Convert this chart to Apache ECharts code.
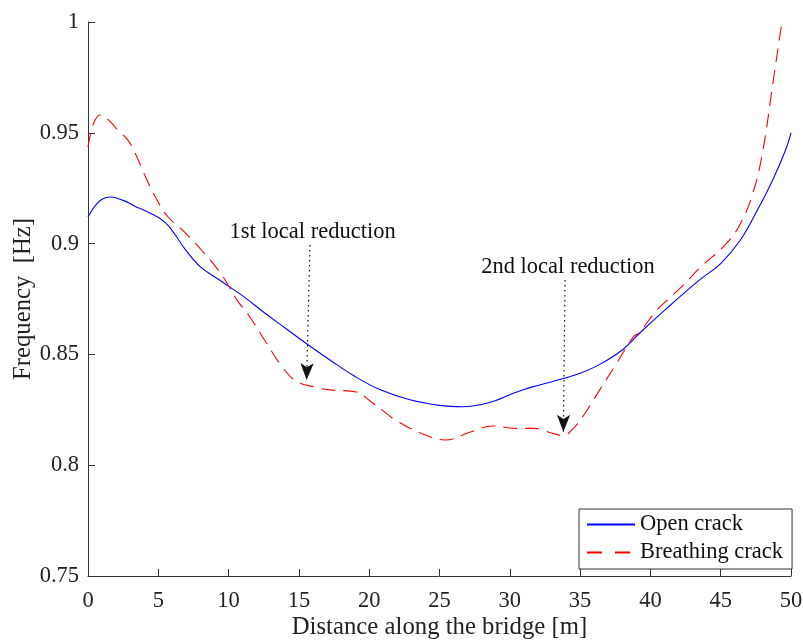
<!DOCTYPE html>
<html>
<head>
<meta charset="utf-8">
<script src="https://cdn.jsdelivr.net/npm/echarts@6/dist/echarts.min.js"></script>
<style>html,body{margin:0;padding:0;background:#fff}#c{width:803px;height:641px}</style>
</head>
<body>
<div id="c"></div>
<script>
const openX = [0,0.5,1,1.6,2.5,3.3,4.5,5.5,6.2,6.9,8,9.3,10,11.2,12.5,14,15.5,17.2,19,20.8,22.9,25,26.7,28,29,30,31,32,33,34,35,36.4,38,39.3,41.2,43.5,45,46.4,47.6,48.7,49.6,50];
const openY = [0.912,0.917,0.920,0.921,0.9195,0.917,0.9135,0.9095,0.904,0.8975,0.8895,0.8838,0.8808,0.8755,0.869,0.862,0.855,0.8475,0.840,0.834,0.8295,0.827,0.8264,0.8274,0.8292,0.8318,0.8342,0.836,0.8377,0.8395,0.8415,0.8455,0.852,0.860,0.871,0.8836,0.891,0.9016,0.915,0.9287,0.942,0.950];
const breathX = [0,0.2,0.45,0.85,1.5,2.15,2.8,3.34,4.17,4.88,5.7,6.9,8.08,9.27,10,10.6,11.5,12.7,13.8,14.8,16.3,17.2,19.1,20.06,21,21.95,23.85,25.4,27.2,28.8,30.5,31.7,33,33.8,34.5,35.2,36.4,37.6,38.8,39.2,40.45,41.2,42.3,43.5,45.4,46.4,47.3,48.0,48.7,49.35,50];
const breathY = [0.9436,0.950,0.955,0.958,0.9555,0.951,0.947,0.941,0.929,0.920,0.912,0.905,0.897,0.888,0.881,0.8745,0.867,0.855,0.8445,0.838,0.835,0.834,0.833,0.829,0.8245,0.820,0.814,0.8114,0.815,0.8177,0.8166,0.8166,0.8145,0.8134,0.8165,0.822,0.834,0.846,0.858,0.8598,0.870,0.8745,0.881,0.889,0.900,0.909,0.923,0.942,0.972,1.0,1.03];
const xTicks = [0,5,10,15,20,25,30,35,40,45,50];
const yTicks = [0.75,0.8,0.85,0.9,0.95,1];
const seriesNames = ['Open crack','Breathing crack'];
const annotations = [
  {text:'1st local reduction', label:[15.97,0.9054], from:[15.79,0.8994], to:[15.55,0.8384]},
  {text:'2nd local reduction', label:[34.14,0.8896], from:[33.93,0.8836], to:[33.81,0.8151]}
];

const FONT = 'Liberation Serif';
const AX = '#333333';
const FS = 22.5, FL = 24.75;
const chart = echarts.init(document.getElementById('c'));
const zip = (xs, ys) => xs.map((x,i)=>[x, ys[i]]);

const axisCommon = {
  axisLine:{show:true, lineStyle:{color:AX, width:1}},
  axisTick:{show:true, inside:true, length:7, lineStyle:{color:AX}},
  splitLine:{show:false},
  nameMoveOverlap:false,
  axisLabel:{color:'#222', fontFamily:FONT, fontSize:FS},
  nameTextStyle:{color:'#222', fontFamily:FONT, fontSize:FL}
};

chart.setOption({
  animation:false,
  backgroundColor:'#fff',
  grid:{left:88, right:12, top:22, bottom:65, containLabel:false, outerBoundsMode:'none'},
  xAxis:Object.assign({}, axisCommon, {
    type:'value', min:xTicks[0], max:xTicks[xTicks.length-1], interval:5,
    name:'Distance along the bridge [m]', nameLocation:'middle', nameGap:39,
    axisLabel:Object.assign({}, axisCommon.axisLabel, {margin:14})
  }),
  yAxis:Object.assign({}, axisCommon, {
    type:'value', min:yTicks[0], max:yTicks[yTicks.length-1], interval:0.05,
    name:'Frequency  [Hz]', nameLocation:'middle', nameGap:52,
    axisLabel:Object.assign({}, axisCommon.axisLabel, {margin:9})
  }),
  legend:{
    orient:'vertical', left:579, top:509,
    data:[{name:seriesNames[0]}, {name:seriesNames[1], lineStyle:{type:[15,13]}}],
    backgroundColor:'#fff', borderColor:AX, borderWidth:1,
    padding:[4,9,5,7], itemGap:5, itemWidth:48, itemHeight:19,
    itemStyle:{opacity:0, borderWidth:0},
    textStyle:{fontFamily:FONT, fontSize:FS, lineHeight:22, color:'#111'}
  },
  series:[
    {
      name:seriesNames[0], type:'line', data:zip(openX, openY),
      smooth:0.4, symbol:'none', clip:true,
      lineStyle:{color:'#0000ff', width:1.1}, itemStyle:{color:'#0000ff'},
      markPoint:{
        symbol:'circle', symbolSize:0, silent:true,
        label:{show:true, position:'inside', formatter:p=>p.name, color:'#111', fontFamily:FONT, fontSize:FS},
        data:annotations.map(a=>({name:a.text, coord:a.label}))
      },
      markLine:{
        silent:true, symbol:['none','arrow'], symbolSize:[10,17],
        lineStyle:{color:'#111', type:[1.5,3.5], width:1.2},
        label:{show:false},
        data:annotations.map(a=>[{coord:a.from},{coord:a.to}])
      }
    },
    {
      name:seriesNames[1], type:'line', data:zip(breathX, breathY),
      smooth:0.4, symbol:'none', clip:true,
      lineStyle:{color:'#ff0000', width:1.1, type:[14,8]}, itemStyle:{color:'#ff0000'}
    }
  ]
});
</script>
</body>
</html>
